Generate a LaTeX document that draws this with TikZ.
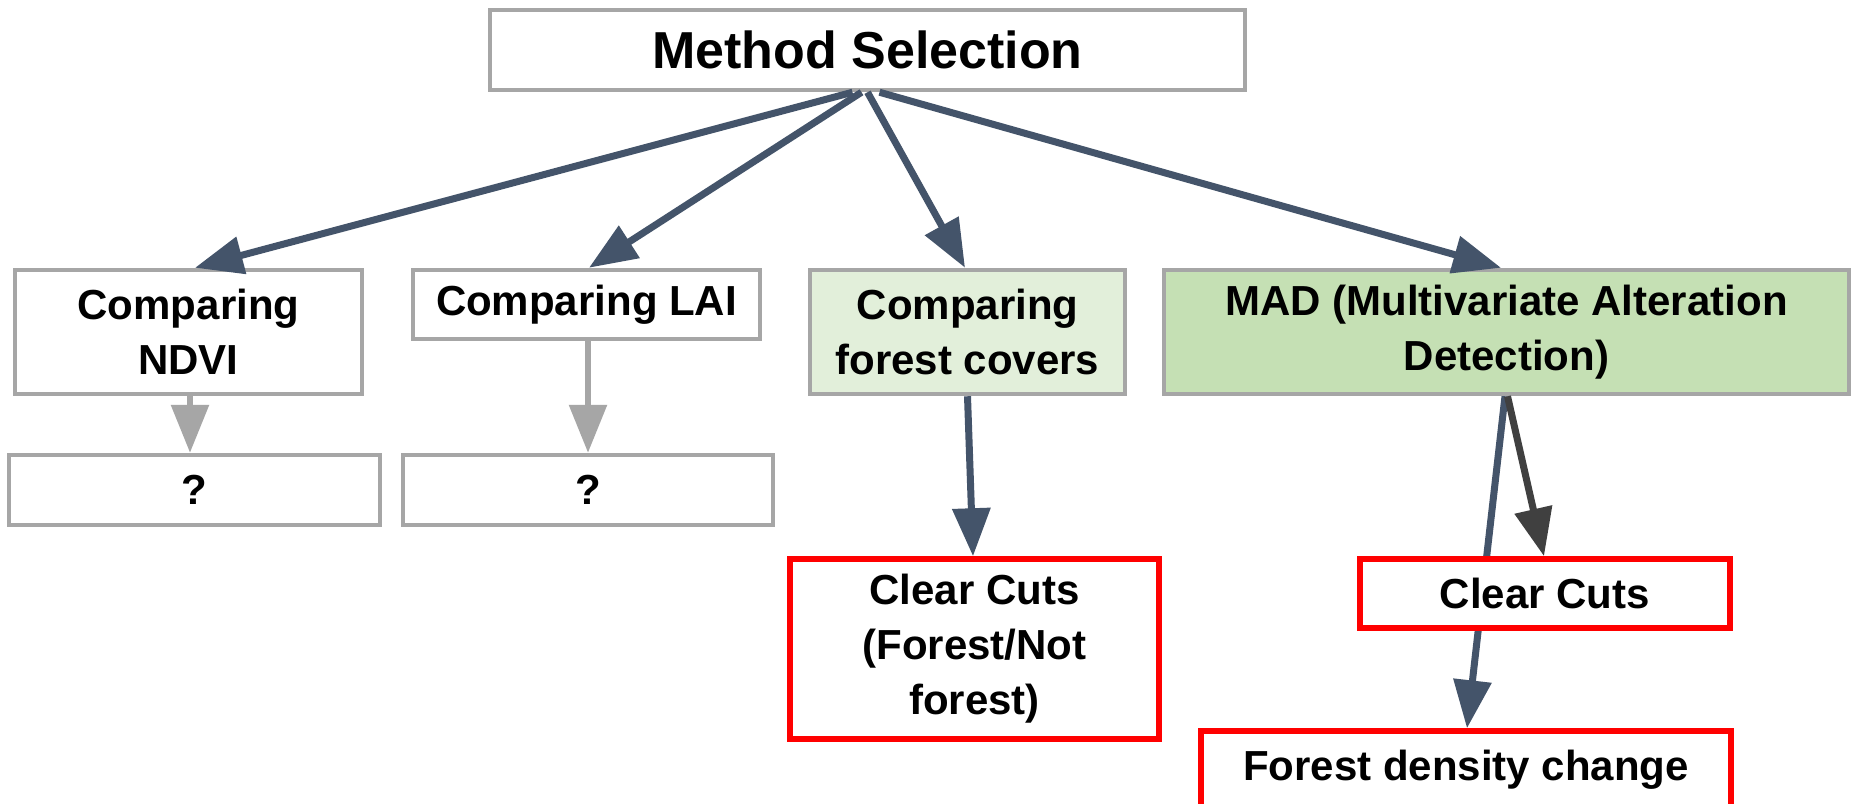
\documentclass[tikz,border=0pt]{standalone}
\usepackage{fontspec}
\setmainfont{Liberation Sans}
\usetikzlibrary{arrows.meta,backgrounds}
\definecolor{boxgray}{HTML}{A6A6A6}
\definecolor{arrblue}{HTML}{44546A}
\definecolor{arrdark}{HTML}{404040}
\definecolor{fcgreen}{HTML}{E2EFDA}
\definecolor{madgreen}{HTML}{C5E0B4}
\definecolor{cutred}{HTML}{FF0000}
\newcommand\mybodyfont{\fontsize{42}{55}\selectfont\bfseries}
\newcommand\mytitlefont{\fontsize{52}{62}\selectfont\bfseries}
\begin{document}
\begin{tikzpicture}[x=1pt,y=-1pt,
  box/.style={draw=boxgray, line width=4.5pt, fill=white, align=center, inner sep=0pt, font=\mybodyfont},
  redbox/.style={box, draw=cutred, line width=5.5pt},
  arr/.style={draw=arrblue, line width=7pt, -{Triangle[length=48pt,width=37pt]}},
  grayarr/.style={arr, draw=boxgray},
  darkarr/.style={arr, draw=arrdark}]
\useasboundingbox (0,0) rectangle (1854,803);
\clip (0,0) rectangle (1854,803);
% nodes
\node[box, font=\mytitlefont, minimum width=755pt, minimum height=80pt] (title) at (867.5,50) {Method Selection};
\node[box, minimum width=347pt, minimum height=124pt] (ndvi) at (188.5,332) {Comparing\\NDVI};
\node[box, minimum width=347pt, minimum height=69pt] (lai) at (586.5,304.5) {Comparing LAI};
\node[box, fill=fcgreen, minimum width=315pt, minimum height=124pt] (fc) at (967.5,332) {Comparing\\forest covers};
\node[box, fill=madgreen, minimum width=685pt, minimum height=124pt] (mad) at (1506.5,332) {MAD (Multivariate Alteration\\Detection)};
\node[box, minimum width=371pt, minimum height=70pt] (q1) at (194.5,490) {?};
\node[box, minimum width=370pt, minimum height=70pt] (q2) at (588,490) {?};
\node[redbox, minimum width=369pt, minimum height=180pt] (cc1) at (974.5,649) {Clear Cuts\\(Forest/Not\\forest)};
\node[redbox, minimum width=370pt, minimum height=69pt] (cc2) at (1545,593.5) {Clear Cuts};
\node[redbox, minimum width=530pt, minimum height=77pt] (fdc) at (1466,769.5) {Forest density change};
% connectors
\draw[arr] ([xshift=-15pt]title.south) -- ([xshift=6.5pt]ndvi.north);
\draw[arr] ([xshift=-6pt]title.south) -- ([xshift=2.5pt]lai.north);
\draw[arr] ([xshift=0pt]title.south) -- ([xshift=-2.5pt]fc.north);
\draw[arr] ([xshift=12pt]title.south) -- ([xshift=-5.5pt]mad.north);
\draw[grayarr, line width=6pt] ([xshift=1.5pt]ndvi.south) -- ([xshift=-4.5pt]q1.north);
\draw[grayarr, line width=6pt] ([xshift=1.5pt]lai.south) -- (q2.north);
\draw[arr] (fc.south) -- ([xshift=-1.5pt]cc1.north);
\begin{scope}[on background layer]
\fill[white] (0,0) rectangle (1854,803);
\draw[arr] ([xshift=-1.5pt]mad.south) -- ([xshift=1pt]fdc.north);
\end{scope}
\draw[darkarr] ([xshift=1pt]mad.south) -- ([xshift=-1pt]cc2.north);
\end{tikzpicture}
\end{document}
